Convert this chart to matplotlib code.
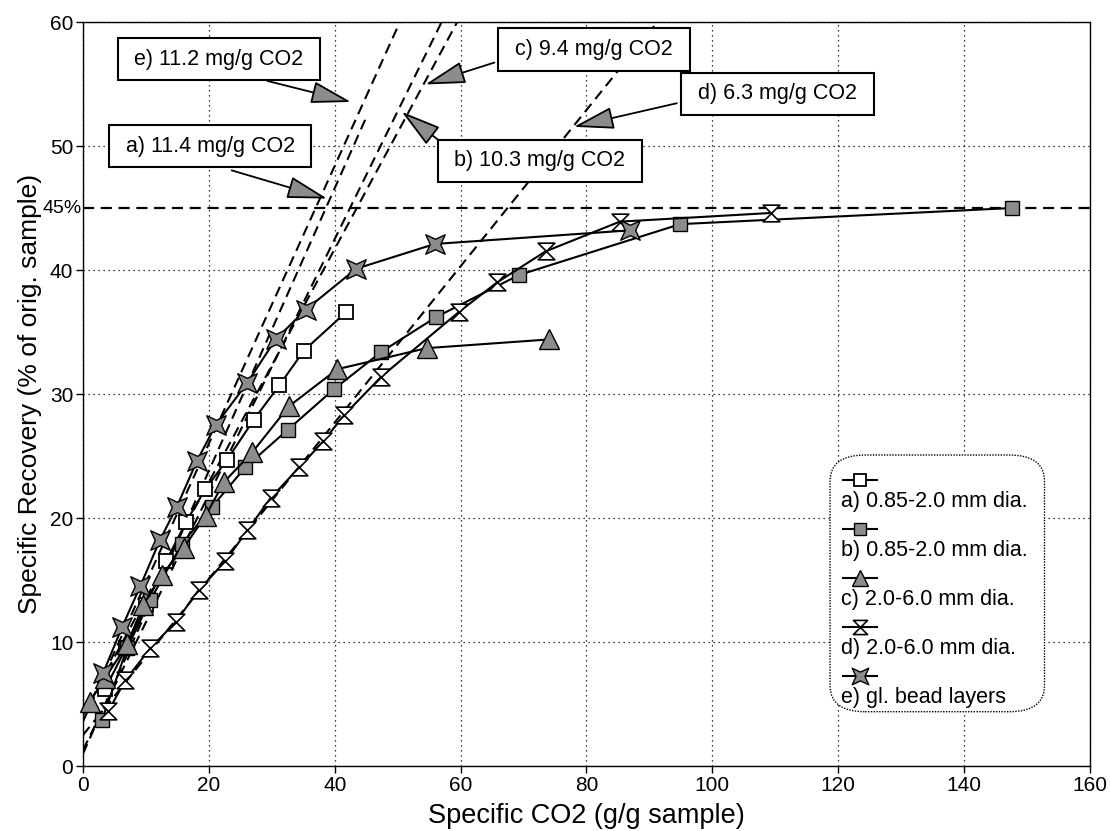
import numpy as np
import matplotlib.pyplot as plt
from matplotlib.path import Path
from matplotlib.patches import FancyArrowPatch, FancyBboxPatch

plt.rcParams['font.family'] = ['Liberation Sans', 'DejaVu Sans']

# measured series (Specific CO2 g/g, Specific Recovery %)
a_x = [3.5, 6.8, 10.0, 13.2, 16.4, 19.4, 22.9, 27.1, 31.2, 35.1, 41.8]
a_y = [6.2, 9.5, 13.0, 16.5, 19.7, 22.3, 24.7, 27.9, 30.7, 33.5, 36.6]

b_x = [3.0, 7.0, 10.7, 15.7, 20.5, 25.8, 32.5, 39.9, 47.4, 56.1, 69.3, 94.9, 147.6]
b_y = [3.7, 9.5, 13.4, 17.9, 20.9, 24.1, 27.1, 30.4, 33.4, 36.2, 39.6, 43.7, 45.0]

c_x = [1.1, 3.5, 7.0, 9.6, 12.5, 16.0, 19.5, 22.4, 26.9, 32.7, 40.4, 54.6, 74.0]
c_y = [5.2, 7.1, 9.8, 13.0, 15.4, 17.6, 20.2, 22.9, 25.3, 29.0, 32.0, 33.7, 34.4]

d_x = [4.0, 6.7, 10.7, 14.7, 18.4, 22.6, 26.1, 29.8, 34.4, 38.2, 41.5, 47.4, 59.7, 65.8, 73.5, 85.3, 109.3]
d_y = [4.4, 6.9, 9.5, 11.6, 14.2, 16.5, 19.0, 21.6, 24.1, 26.2, 28.3, 31.4, 36.6, 39.0, 41.5, 43.9, 44.6]

e_x = [3.2, 6.2, 9.1, 12.2, 14.9, 18.1, 21.1, 26.1, 30.6, 35.4, 43.4, 55.9, 86.9]
e_y = [7.5, 11.2, 14.5, 18.2, 20.9, 24.6, 27.5, 30.9, 34.4, 36.8, 40.1, 42.1, 43.2]

legend_labels = ["a) 0.85-2.0 mm dia.", "b) 0.85-2.0 mm dia.", "c) 2.0-6.0 mm dia.",
                 "d) 2.0-6.0 mm dia.", "e) gl. bead layers"]

# initial-slope fit lines: label, slope, intercept, x range
fit_labels = ["a) 11.4 mg/g CO2", "b) 10.3 mg/g CO2", "c) 9.4 mg/g CO2",
              "d) 6.3 mg/g CO2", "e) 11.2 mg/g CO2"]
fit_slope = [1.14, 1.03, 0.94, 0.63, 1.12]
fit_icpt = [1.0, 1.3, 4.1, 2.5, 3.6]
fit_xend = [45.0, 57.0, 59.5, 91.3, 50.4]

# annotation boxes: text centre, arrow start, arrow tip
box_xy = [(20.2, 50.0), (72.6, 48.8), (81.2, 57.8), (110.4, 54.2), (21.6, 57.0)]
arr_from = [(23.2, 48.1), (65.4, 47.0), (65.8, 56.8), (94.8, 53.5), (28.9, 55.3)]
arr_to = [(39.2, 45.7), (50.3, 52.9), (54.0, 54.9), (77.6, 51.5), (43.0, 53.5)]

hourglass = Path([(-1, 1), (1, 1), (0, 0), (1, -1), (-1, -1), (0, 0), (-1, 1)],
                 [1, 2, 2, 2, 2, 2, 79])
ang = np.deg2rad(np.arange(8) * 45 + 45)
rad = np.where(np.arange(8) % 2 == 0, 1.0, 0.38)
star4 = Path(np.column_stack([rad * np.cos(ang), rad * np.sin(ang)]).tolist() + [[0, 0]],
             [1] + [2] * 7 + [79])
gray = '#8c8c8c'
styles = [
    dict(marker='s', ms=10, mfc='white', mec='black', mew=1.3),
    dict(marker='s', ms=10, mfc=gray, mec='black', mew=1.0),
    dict(marker='^', ms=14, mfc=gray, mec='black', mew=1.0),
    dict(marker=hourglass, ms=12, mfc='white', mec='black', mew=1.2),
    dict(marker=star4, ms=14, mfc=gray, mec='black', mew=1.0),
]

fig = plt.figure(figsize=(11.1, 8.31), dpi=100)
ax = fig.add_axes([0.0748, 0.0782, 0.907, 0.8953])
ax.set_xlim(0, 160)
ax.set_ylim(0, 60)
ax.set_xticks(range(0, 161, 20))
ax.set_yticks(range(0, 61, 10))
ax.tick_params(direction='out', length=5, width=1, labelsize=15, pad=2)
ax.grid(True, linestyle=(0, (1, 3)), color='black', lw=0.9)
ax.set_axisbelow(True)
for sp in ax.spines.values():
    sp.set_linestyle((0, (1, 1)))
    sp.set_linewidth(1.0)

ax.axhline(45, color='black', ls=(0, (5, 3)), lw=1.6, zorder=2)
ax.text(-0.2, 45, "45%", ha='right', va='center', fontsize=14)

for s, b0, xe in zip(fit_slope, fit_icpt, fit_xend):
    xs = np.array([0.0, xe])
    ax.plot(xs, s * xs + b0, color='black', ls=(0, (5, 3)), lw=1.5, zorder=2)

series = [(a_x, a_y), (b_x, b_y), (c_x, c_y), (d_x, d_y), (e_x, e_y)]
for (xs, ys), st in zip(series, styles):
    ax.plot(xs, ys, color='black', lw=1.5, zorder=3, clip_on=False, **st)

for lab, (tx, ty), p0, p1 in zip(fit_labels, box_xy, arr_from, arr_to):
    ax.add_patch(FancyArrowPatch(p0, p1, arrowstyle='-|>,head_length=1.8,head_width=0.5',
                                 mutation_scale=14, fc=gray, ec='black', lw=1.3, zorder=5))
    ax.text(tx, ty, " " + lab + " ", ha='center', va='center', fontsize=15.5, zorder=6,
            bbox=dict(boxstyle='square,pad=0.5', fc='white', ec='black', lw=1.5))

# legend drawn as marker row above each label
ax.add_patch(FancyBboxPatch((0.742, 0.073), 0.213, 0.345, transform=ax.transAxes,
                            boxstyle='round,pad=0,rounding_size=0.035', fc='white',
                            ec='black', ls=(0, (1, 1)), lw=1.0, zorder=7))
for i, (lab, st) in enumerate(zip(legend_labels, styles)):
    y0 = 0.384 - i * 0.0659
    ax.plot([0.755, 0.789], [y0, y0], transform=ax.transAxes, color='black', lw=1.5,
            zorder=8)
    ax.plot([0.772], [y0], transform=ax.transAxes, zorder=8,
            **dict(st, ms=st['ms'] * 0.85))
    ax.text(0.753, y0 - 0.028, lab, transform=ax.transAxes, ha='left', va='center',
            fontsize=15.5, zorder=8)

ax.set_xlabel("Specific CO2 (g/g sample)", fontsize=19.5, labelpad=6)
ax.set_ylabel("Specific Recovery (% of orig. sample)", fontsize=19, labelpad=6)

plt.savefig("out.png", dpi=100)
